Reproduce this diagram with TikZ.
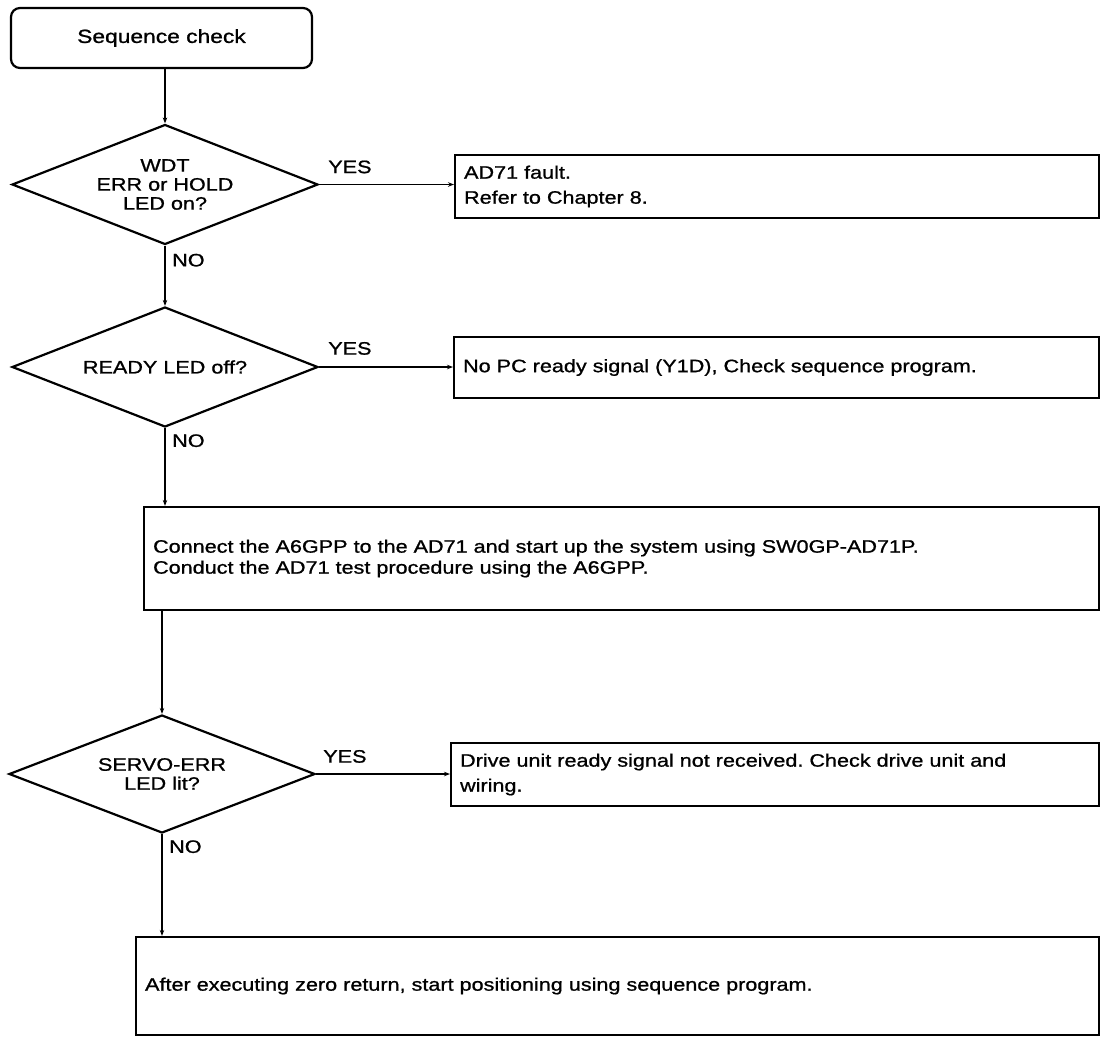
\documentclass[tikz,border=0pt]{standalone}
\usepackage{fontspec}
\setmainfont[FakeStretch=1.2,FakeBold=1]{Liberation Sans}
\usetikzlibrary{shapes.geometric,arrows.meta,positioning}
\newcommand{\chartfont}{\fontsize{18}{25}\selectfont}
\frenchspacing

\begin{document}
\begin{tikzpicture}[
  x=1pt, y=-1pt,
  startbox/.style={rectangle, rounded corners=9pt, draw, line width=2.2pt,
              minimum width=301pt, minimum height=60pt,
              font=\fontsize{19}{22}\selectfont},
  decision/.style={diamond, draw, line width=2.2pt, aspect=2.5,
              inner sep=0pt, minimum width=306pt, minimum height=#1,
              align=center, font=\fontsize{18}{19}\selectfont},
  box/.style={rectangle, draw, line width=2.2pt, anchor=west,
              inner xsep=9pt, inner ysep=0pt, align=left, font=\chartfont},
  lbl/.style={inner sep=0pt, font=\chartfont},
  arr/.style={-{Stealth[length=6pt,width=4.5pt]}, line width=1.3pt}
]
  \useasboundingbox (0,0) rectangle (1102,1037);

  % main column
  \node[startbox] (seq) at (161.5,38) {Sequence check};
  \node[decision=120pt] (wdt) at (165,184.5) {WDT\\ERR or HOLD\\LED on?};
  \node[decision=120pt] (ready) at (165,367) {READY LED off?};
  \node[box, text width=937pt, minimum height=103pt,
        font=\fontsize{18}{21}\selectfont] (gpp) at (143,558.5)
    {Connect the A6GPP to the AD71 and start up the system using SW0GP-AD71P.\\
     Conduct the AD71 test procedure using the A6GPP.};
  \node[decision=118pt] (servo) at (162,774) {SERVO-ERR\\LED lit?};
  \node[box, text width=945pt, minimum height=98pt] (zero) at (135,986)
    {After executing zero return, start positioning using sequence program.};

  % YES branches
  \node[box, text width=626pt, minimum height=63pt] (fault) at (454,186.5)
    {AD71 fault.\\Refer to Chapter 8.};
  \node[box, text width=627pt, minimum height=61pt] (pcrdy) at (453,367.5)
    {No PC ready signal (Y1D), Check sequence program.};
  \node[box, text width=630pt, minimum height=63pt] (drive) at (450,774.5)
    {Drive unit ready signal not received. Check drive unit and\\wiring.};

  \node[lbl, above right=11pt and 9pt of wdt.east] (yes1) {YES};
  \node[lbl, above right=12pt and 9pt of ready.east] (yes2) {YES};
  \node[lbl, above right=11pt and 7pt of servo.east] (yes3) {YES};
  \node[lbl, below right=8pt and 7pt of wdt.south] (no1) {NO};
  \node[lbl, below right=6pt and 7pt of ready.south] (no2) {NO};
  \node[lbl, below right=6pt and 7pt of servo.south] (no3) {NO};

  \draw[arr] (wdt.north |- seq.south) -- (wdt.north);
  \draw[arr] (wdt.south) -- (ready.north);
  \draw[arr] (ready.south) -- (ready.south |- gpp.north);
  \draw[arr] (servo.north |- gpp.south) -- (servo.north);
  \draw[arr] (servo.south) -- (servo.south |- zero.north);
  \draw[arr] (wdt.east) -- (wdt.east -| fault.west);
  \draw[arr] (ready.east) -- (ready.east -| pcrdy.west);
  \draw[arr] (servo.east) -- (servo.east -| drive.west);
\end{tikzpicture}
\end{document}
